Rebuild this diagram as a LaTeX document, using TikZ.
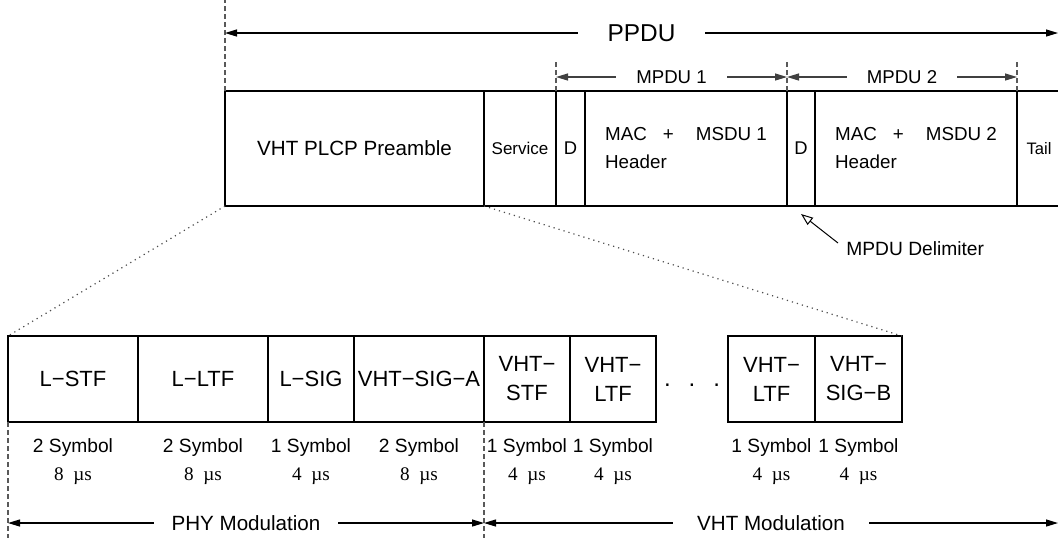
\documentclass[tikz,border=0pt]{standalone}
\usepackage{fontspec}
\setmainfont{Liberation Sans}
\newfontfamily\timesfont{Liberation Serif}
\usetikzlibrary{positioning, arrows.meta, calc}

\tikzset{
  field/.style={draw, line width=0.6pt, inner sep=0pt, outer sep=0pt, align=center},
  top field/.style={field, minimum height=57.5pt},
  sub field/.style={field, minimum height=43pt, font=\fontsize{11}{14.5}\selectfont},
  dimline/.style={line width=0.6pt, {Triangle[length=6pt,width=3.5pt]}-{Triangle[length=6pt,width=3.5pt]}},
  guide/.style={black!65, line width=0.6pt, dash pattern=on 2.5pt off 1.5pt},
  zoomline/.style={black!70, line width=0.6pt, dotted},
  gaplabel/.style={fill=white, inner ysep=1pt},
  timing/.style={align=center, inner sep=0pt, font=\fontsize{9.6}{14}\selectfont},
}

\begin{document}
\begin{tikzpicture}[x=0.5pt, y=-0.5pt]
\useasboundingbox (0,0) rectangle (1058,538);
\clip (0,0) rectangle (1058,538);

% helper heights
\coordinate (top) at (0,0);
\coordinate (bot) at (0,538);
\coordinate (mpdutop) at (0,62);
\coordinate (ppduY) at (1058,33);
\coordinate (mpduY) at (0,77);
\coordinate (modY) at (1058,523);

% PPDU frame
\node[top field, minimum width=129.5pt, anchor=north west, font=\fontsize{10.3}{12}\selectfont] (pre) at (225,91) {VHT PLCP Preamble};
\node[top field, minimum width=36pt, right=0pt of pre, font=\fontsize{8.5}{10}\selectfont] (svc) {Service};
\node[top field, minimum width=14.5pt, right=0pt of svc, font=\fontsize{9.2}{11}\selectfont] (d1) {D};
\node[top field, minimum width=101pt, right=0pt of d1, align=left, font=\fontsize{9.4}{14}\selectfont] (mac1) {MAC\hspace{8pt}+\hspace{11pt}MSDU 1\\Header};
\node[top field, minimum width=14pt, right=0pt of mac1, font=\fontsize{9.2}{11}\selectfont] (d2) {D};
\node[top field, minimum width=101pt, right=0pt of d2, align=left, font=\fontsize{9.4}{14}\selectfont] (mac2) {MAC\hspace{8pt}+\hspace{11pt}MSDU 2\\Header};
\node[top field, minimum width=22pt, right=0pt of mac2, font=\fontsize{8.3}{10}\selectfont] (tail) {Tail};

% preamble fields
\node[sub field, minimum width=65pt, anchor=north west] (lstf) at (8,336) {L−STF};
\node[sub field, minimum width=65pt, right=0pt of lstf] (lltf) {L−LTF};
\node[sub field, minimum width=43pt, right=0pt of lltf] (lsig) {L−SIG};
\node[sub field, minimum width=65pt, right=0pt of lsig] (siga) {VHT−SIG−A};
\node[sub field, minimum width=43pt, right=0pt of siga] (vstf) {VHT−\\STF};
\node[sub field, minimum width=43pt, right=0pt of vstf] (vltf) {VHT−\\LTF};
\node[sub field, minimum width=43.5pt, right=36pt of vltf] (vltfn) {VHT−\\LTF};
\node[sub field, minimum width=43.5pt, right=0pt of vltfn] (sigb) {VHT−\\SIG−B};
\node[inner sep=0pt, font=\fontsize{12}{12}\selectfont, yshift=-3pt] (dots) at ($(vltf.east)!0.5!(vltfn.west)$) {.\hspace{9pt}.\hspace{9pt}.};

% durations
\node[timing, below=8pt of lstf] (t1) {2 Symbol\\{\timesfont 8~~µs}};
\node[timing, below=8pt of lltf] (t2) {2 Symbol\\{\timesfont 8~~µs}};
\node[timing, below=8pt of lsig] (t3) {1 Symbol\\{\timesfont 4~~µs}};
\node[timing, below=8pt of siga] (t4) {2 Symbol\\{\timesfont 8~~µs}};
\node[timing, below=8pt of vstf] (t5) {1 Symbol\\{\timesfont 4~~µs}};
\node[timing, below=8pt of vltf] (t6) {1 Symbol\\{\timesfont 4~~µs}};
\node[timing, below=8pt of vltfn] (t7) {1 Symbol\\{\timesfont 4~~µs}};
\node[timing, below=8pt of sigb] (t8) {1 Symbol\\{\timesfont 4~~µs}};

% guides
\draw[guide] (pre.north west) -- (pre.north west |- top);
\draw[guide] (d1.north west) -- (d1.north west |- mpdutop);
\draw[guide] (d2.north west) -- (d2.north west |- mpdutop);
\draw[guide] (tail.north west) -- (tail.north west |- mpdutop);
\draw[guide] (lstf.south west) -- (lstf.south west |- bot);
\draw[guide] (vstf.south west) -- (vstf.south west |- bot);

% spans
\draw[dimline] (pre.north west |- ppduY) -- (ppduY)
  node[midway, gaplabel, inner xsep=15pt, font=\fontsize{12.2}{14}\selectfont] {PPDU};
\draw[dimline, black!75] (d1.north west |- mpduY) -- (d2.north west |- mpduY)
  node[midway, gaplabel, inner xsep=10pt, text=black, font=\fontsize{9.3}{11}\selectfont] {MPDU 1};
\draw[dimline, black!75] (d2.north west |- mpduY) -- (tail.north west |- mpduY)
  node[midway, gaplabel, inner xsep=10pt, text=black, font=\fontsize{9.3}{11}\selectfont] {MPDU 2};
\draw[dimline] (lstf.south west |- modY) -- (vstf.south west |- modY)
  node[midway, gaplabel, inner xsep=9pt, font=\fontsize{10.3}{12}\selectfont] {PHY Modulation};
\draw[dimline] (vstf.south west |- modY) -- (modY)
  node[midway, gaplabel, inner xsep=12pt, font=\fontsize{10.3}{12}\selectfont] {VHT Modulation};

% zoom lines
\draw[zoomline] (pre.south west) -- (lstf.north west);
\draw[zoomline] (pre.south east) -- (sigb.north east);

% delimiter callout
\node[inner sep=0pt, anchor=west, font=\fontsize{9.6}{12}\selectfont] (delim) at (846,249) {MPDU Delimiter};
\draw[line width=0.5pt, -{Triangle[open, length=6pt, width=4.5pt]}] ([xshift=-4pt, yshift=3pt]delim.west) -- ([yshift=-4pt]d2.south);
\end{tikzpicture}
\end{document}
